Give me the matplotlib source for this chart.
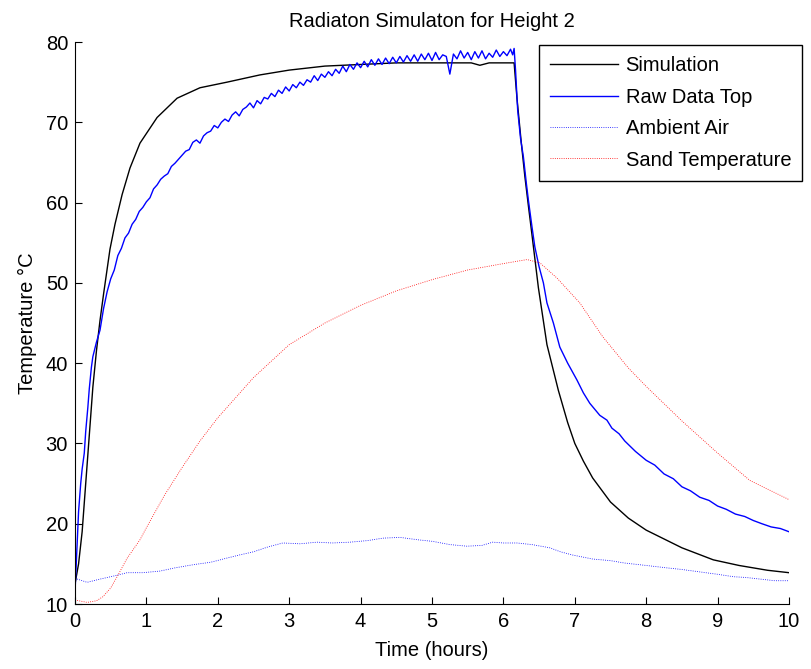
import numpy as np
import matplotlib
matplotlib.use("Agg")
import matplotlib.pyplot as plt

plt.rcParams['font.family'] = ['Liberation Sans', 'DejaVu Sans']

# -------------------------------------------------------------
# data (time in hours, temperature in C)
# -------------------------------------------------------------
sim_t = [0.00, 0.05, 0.10, 0.15, 0.20, 0.25, 0.30, 0.35, 0.40, 0.49, 0.56, 0.66,
         0.77, 0.91, 1.15, 1.43, 1.75, 2.13, 2.59, 3.00, 3.50, 4.00, 4.50, 5.00,
         5.55, 5.67, 5.80, 6.15, 6.19, 6.25, 6.30, 6.35, 6.40, 6.49, 6.61, 6.77,
         6.90, 7.00, 7.12, 7.25, 7.50, 7.75, 8.00, 8.50, 8.94, 9.30, 9.70, 10.00]
sim_v = [12.5, 15.0, 19.0, 25.0, 31.0, 37.0, 41.5, 45.3, 48.6, 54.2, 57.3, 61.0,
         64.3, 67.4, 70.6, 73.0, 74.3, 75.0, 75.9, 76.5, 77.0, 77.2, 77.4, 77.4,
         77.4, 77.1, 77.4, 77.4, 73.0, 67.5, 63.3, 59.6, 56.0, 49.4, 42.3, 36.6,
         32.6, 30.0, 27.8, 25.7, 22.7, 20.7, 19.2, 17.0, 15.5, 14.8, 14.2, 13.9]

raw_t = [0.00, 0.03, 0.05, 0.08, 0.10, 0.13, 0.15, 0.18, 0.20, 0.23, 0.25, 0.30,
         0.35, 0.40, 0.45, 0.50, 0.55, 0.60, 0.65, 0.70, 0.75, 0.80, 0.85, 0.90,
         0.95, 1.00, 1.05, 1.10, 1.15, 1.20, 1.25, 1.30, 1.35, 1.40, 1.45, 1.50,
         1.55, 1.60, 1.65, 1.70, 1.75, 1.80, 1.85, 1.90, 1.95, 2.00, 2.05, 2.10,
         2.15, 2.20, 2.25, 2.30, 2.35, 2.40, 2.45, 2.50, 2.55, 2.60, 2.65, 2.70,
         2.75, 2.80, 2.85, 2.90, 2.95, 3.00, 3.05, 3.10, 3.15, 3.20, 3.25, 3.30,
         3.35, 3.40, 3.45, 3.50, 3.55, 3.60, 3.65, 3.70, 3.75, 3.80, 3.85, 3.90,
         3.95, 4.00, 4.05, 4.10, 4.15, 4.20, 4.25, 4.30, 4.35, 4.40, 4.45, 4.50,
         4.55, 4.60, 4.65, 4.70, 4.75, 4.80, 4.85, 4.90, 4.95, 5.00, 5.05, 5.10,
         5.15, 5.20, 5.25, 5.30, 5.35, 5.40, 5.45, 5.50, 5.55, 5.60, 5.65, 5.70,
         5.75, 5.80, 5.85, 5.90, 5.95, 6.00, 6.05, 6.10, 6.13, 6.15,
         6.17, 6.20, 6.24, 6.28, 6.32, 6.35, 6.40, 6.44, 6.50, 6.56, 6.61, 6.70,
         6.79, 6.90, 7.03, 7.12, 7.21, 7.35, 7.45, 7.52, 7.62, 7.70, 7.85, 8.00,
         8.12, 8.25, 8.38, 8.50, 8.62, 8.75, 8.88, 9.00, 9.12, 9.25, 9.38, 9.50,
         9.62, 9.75, 9.88, 10.00]
raw_v = [11.5, 17.5, 21.5, 25.0, 26.8, 28.8, 31.5, 34.5, 36.8, 39.5, 40.8, 42.6,
         44.1, 46.8, 48.9, 50.5, 51.6, 53.4, 54.3, 55.6, 56.2, 57.3, 57.9, 58.9,
         59.4, 60.1, 60.6, 61.7, 62.2, 62.9, 63.3, 63.6, 64.5, 64.9, 65.4, 65.9,
         66.4, 66.6, 67.5, 67.8, 67.4, 68.3, 68.7, 68.9, 69.6, 69.3, 70.0, 70.4,
         70.1, 70.9, 71.3, 70.8, 71.6, 71.9, 72.4, 71.8, 72.7, 72.3, 73.1, 72.9,
         73.6, 73.2, 74.0, 73.6, 74.4, 73.9, 74.7, 74.3, 75.0, 74.6, 75.3, 75.0,
         75.8, 75.2, 76.0, 75.6, 76.3, 75.8, 76.6, 76.1, 77.0, 76.3, 77.2, 76.6,
         77.4, 76.8, 77.6, 76.9, 77.8, 77.1, 77.9, 77.2, 78.0, 77.3, 78.1, 77.4,
         78.2, 77.5, 78.3, 77.6, 78.4, 77.6, 78.5, 77.8, 78.6, 77.7, 78.7, 77.8,
         78.4, 78.2, 76.0, 78.5, 77.9, 78.9, 78.0, 78.7, 77.8, 78.8, 78.0, 78.9,
         77.9, 78.6, 78.1, 79.0, 78.2, 78.8, 78.3, 79.1, 78.4, 79.2,
         76.5, 71.5, 68.0, 65.7, 62.5, 60.3, 57.0, 54.5, 52.0, 50.0, 47.5, 45.0,
         42.0, 40.0, 37.9, 36.3, 35.0, 33.5, 32.9, 31.9, 31.2, 30.3, 29.0, 27.9,
         27.3, 26.2, 25.6, 24.6, 24.1, 23.3, 22.9, 22.2, 21.8, 21.2, 20.9, 20.4,
         20.0, 19.6, 19.4, 19.0]

amb_t = [0.00, 0.17, 0.35, 0.55, 0.73, 0.95, 1.19, 1.40, 1.66, 1.90, 2.12, 2.30,
         2.50, 2.70, 2.91, 3.15, 3.39, 3.60, 3.85, 4.10, 4.31, 4.55, 4.80, 5.01,
         5.25, 5.49, 5.70, 5.85, 6.00, 6.19, 6.40, 6.65, 6.80, 6.97, 7.25, 7.50,
         7.70, 8.00, 8.29, 8.50, 8.75, 9.00, 9.22, 9.40, 9.60, 9.80, 10.00]
amb_v = [13.2, 12.7, 13.1, 13.5, 13.9, 13.9, 14.1, 14.5, 14.9, 15.2, 15.7, 16.1,
         16.5, 17.1, 17.6, 17.5, 17.7, 17.6, 17.7, 17.9, 18.2, 18.3, 18.0, 17.8,
         17.4, 17.2, 17.3, 17.7, 17.6, 17.6, 17.4, 17.0, 16.5, 16.1, 15.6, 15.4,
         15.1, 14.8, 14.5, 14.3, 14.0, 13.7, 13.4, 13.3, 13.1, 12.9, 12.9]

sand_t = [0.00, 0.17, 0.30, 0.39, 0.50, 0.59, 0.73, 0.91, 1.00, 1.25, 1.50, 1.75,
          2.00, 2.50, 3.00, 3.50, 4.00, 4.50, 5.00, 5.50, 6.00, 6.33, 6.51, 6.75,
          7.07, 7.39, 7.75, 8.00, 8.50, 9.00, 9.45, 10.00]
sand_v = [10.5, 10.2, 10.4, 10.9, 12.0, 13.4, 15.7, 18.0, 19.5, 23.5, 27.0, 30.3,
          33.2, 38.2, 42.3, 45.0, 47.2, 49.0, 50.4, 51.6, 52.4, 52.9, 52.5, 50.6,
          47.5, 43.3, 39.4, 37.1, 32.8, 28.8, 25.4, 23.0]

fs = 14.5

fig = plt.figure(figsize=(8.12, 6.69), dpi=100)
ax = fig.add_axes([75 / 812, 65 / 669, 714 / 812, 562 / 669])

ax.plot(sim_t, sim_v, color='black', lw=1.0, label='Simulation')
ax.plot(raw_t, raw_v, color='blue', lw=1.0, label='Raw Data Top')
ax.plot(amb_t, amb_v, color='blue', lw=0.6, ls=':', label='Ambient Air')
ax.plot(sand_t, sand_v, color='red', lw=0.6, ls=':', label='Sand Temperature')

ax.set_xlim(0, 10)
ax.set_ylim(10, 80)
ax.set_xticks(range(0, 11))
ax.set_yticks(range(10, 81, 10))
ax.spines['top'].set_visible(False)
ax.spines['right'].set_visible(False)
ax.tick_params(direction='in', length=5, labelsize=fs)
ax.tick_params(axis='x', pad=6)
ax.tick_params(axis='y', pad=5)

ax.set_title('Radiaton Simulaton for Height 2', fontsize=fs, pad=11)
ax.set_xlabel('Time (hours)', fontsize=fs, labelpad=7)
ax.set_ylabel('Temperature \u00b0C', fontsize=fs, labelpad=6)

leg = ax.legend(loc='upper left', bbox_to_anchor=(539 / 812, 1 - 45 / 669),
                bbox_transform=fig.transFigure, fontsize=fs, fancybox=False,
                edgecolor='black', framealpha=1, handlelength=3.35,
                handletextpad=0.4, labelspacing=0.62, borderaxespad=0,
                borderpad=0.55)
leg.get_frame().set_linewidth(1.0)

fig.savefig('out.png', dpi=100)
